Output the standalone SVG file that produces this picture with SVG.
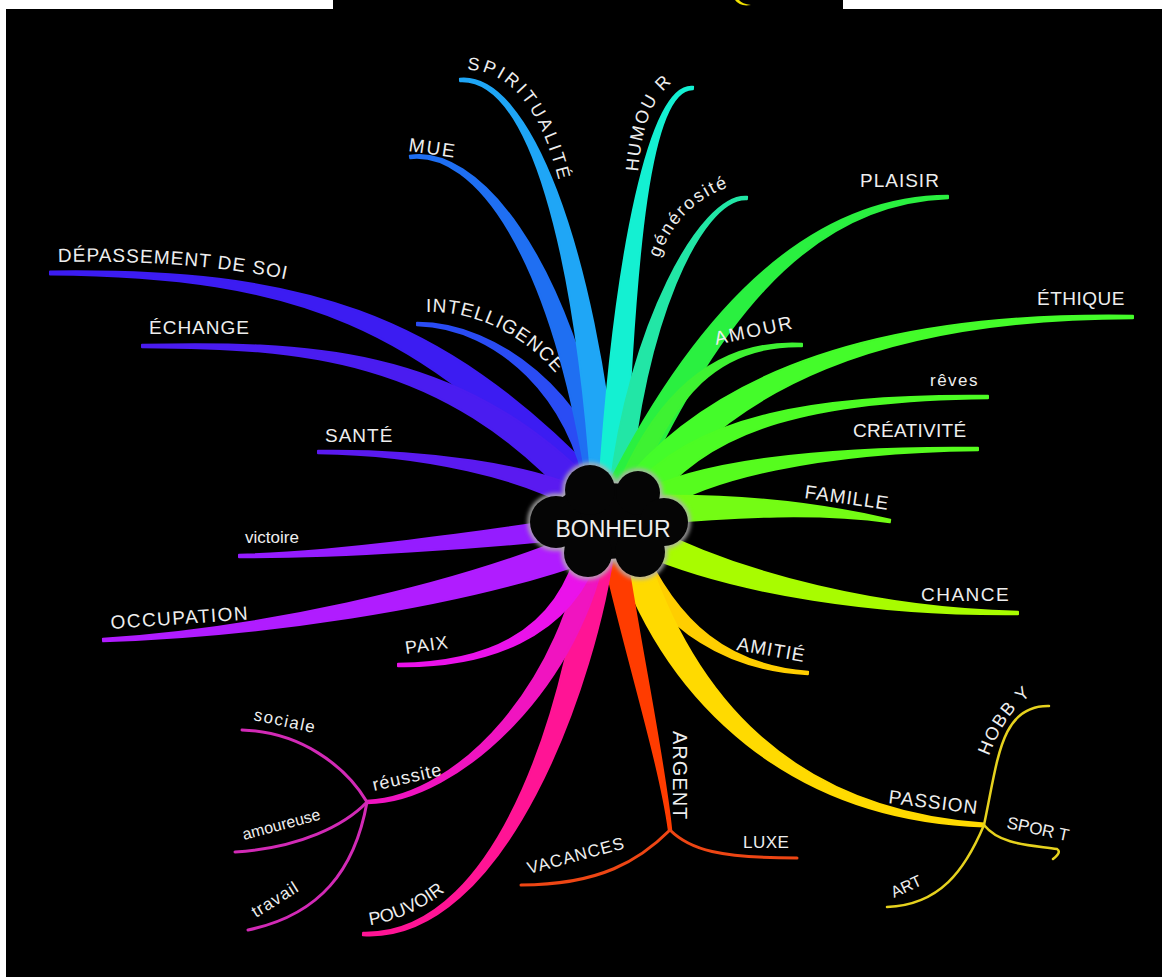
<svg xmlns="http://www.w3.org/2000/svg" xmlns:xlink="http://www.w3.org/1999/xlink" width="1162" height="977" viewBox="0 0 1162 977">
<defs>
<style>
.t{font-family:"Liberation Sans",Arial,sans-serif;fill:#eeeeee;font-size:19px;letter-spacing:1px}
.s{font-size:17px}
.b{stroke-width:2;stroke-linejoin:round}
.sub{fill:none;stroke-linecap:round}
</style>
<filter id="blur" x="-20%" y="-20%" width="140%" height="140%"><feGaussianBlur stdDeviation="2"/></filter>
<g id="cloud">
<ellipse cx="609" cy="521" rx="60" ry="38"/>
<circle cx="556" cy="522" r="26"/>
<circle cx="590" cy="490" r="25"/>
<circle cx="638" cy="493" r="22"/>
<circle cx="664" cy="522" r="24"/>
<circle cx="640" cy="552" r="25"/>
<circle cx="588" cy="553" r="24"/>
</g>
<path id="p-dep" d="M58,262 C140,260 230,266 297,282"/>
<path id="p-int" d="M426,312 C470,311 525,330 565,385"/>
<path id="p-spi" d="M467,70 C510,70 545,110 563,200"/>
<path id="p-hum" d="M638,172 C642,125 652,92 686,72"/>
<path id="p-gen" d="M659,258 C672,222 698,193 745,182"/>
<path id="p-hob" d="M989,756 C998,733 1010,708 1040,688"/>
<path id="p-pou" d="M370,925 C400,921 432,905 458,880"/>
</defs>
<rect width="1162" height="977" fill="#ffffff"/>
<rect x="6" y="9" width="1156" height="968" fill="#000000"/>
<rect x="333" y="0" width="510" height="10" fill="#000000"/>
<path d="M735,0 Q740,7 751,5 Q742,4 739,0 Z" fill="#f0e000"/>

<g id="n-intelligence"><text class="t"><textPath href="#p-int">INTELLIGENCE</textPath></text></g>

<g id="connectors">
<path class="b" fill="#3c1cf2" stroke="#3c1cf2" d="M600.95,479.7 C439.5,311.1 300,268 50,271.5 L50,274.5 C300,276 420.5,328.9 579.05,500.3 Z"/>
<path class="b" fill="#4a1cf0" stroke="#4a1cf0" d="M595.2,485.5 C457.3,343.2 300,342 142,344.8 L142,347.2 C300,348 442.7,356.8 574.8,504.5 Z"/>
<path class="b" fill="#5a1af0" stroke="#5a1af0" d="M595.5,495.5 C534,463.1 420,449.5 318,450.8 L318,453.2 C420,454.5 526,476.9 584.5,514.5 Z"/>
<path class="b" fill="#2a4cf4" stroke="#2a4cf4" d="M609.8,487.6 C588.3,398.3 500,322.5 417,322.8 L417,325.2 C500,327.5 571.7,401.7 586.2,492.4 Z"/>
<path class="b" fill="#1f6ff2" stroke="#1f6ff2" d="M611.8,486 C569.4,248.4 474.5,145 409.8,155.8 L410.2,158.2 C475.5,151 550.6,251.6 588.2,490 Z"/>
<path class="b" fill="#1fa6f6" stroke="#1fa6f6" d="M618,488.9 C595,249.2 529.7,72 459.9,78.8 L460.1,81.2 C530.3,78 575,250.8 592,491.1 Z"/>
<path class="b" fill="#14f0d2" stroke="#14f0d2" d="M625,490.7 C635,250.5 649.7,88 692.9,89.2 L693.1,86.8 C650.3,82 615,249.5 599,489.3 Z"/>
<path class="b" fill="#22e6a6" stroke="#22e6a6" d="M630,490.9 C642,330.7 699.9,197 746.9,199.2 L747.1,196.8 C700.1,193 628,329.3 610,489.1 Z"/>
<path class="b" fill="#2af040" stroke="#2af040" d="M633.5,501.5 C710.8,335.2 800.1,203.5 948,198.3 L948,195.7 C799.9,196.5 689.2,324.8 606.5,488.5 Z"/>
<path class="b" fill="#3ef232" stroke="#3ef232" d="M634.3,498.6 C672,392.7 719.9,344.5 802,346.2 L802,343.8 C720.1,339.5 658,387.3 615.7,491.4 Z"/>
<path class="b" fill="#44fc2a" stroke="#44fc2a" d="M642.8,509.6 C730.4,387.8 880,318.5 1133,318.3 L1133,315.7 C880,311.5 709.6,372.2 617.2,490.4 Z"/>
<path class="b" fill="#4cfc24" stroke="#4cfc24" d="M650.4,507.8 C707.6,425.7 820,400 988,398.2 L988,395.8 C820,394 692.4,414.3 629.6,492.2 Z"/>
<path class="b" fill="#56fc1e" stroke="#56fc1e" d="M652,516 C705.1,478 820,452 978,450.2 L978,447.8 C820,446 694.9,462 638,494 Z"/>
<path class="b" fill="#74fc14" stroke="#74fc14" d="M650.8,524 C740.6,516 819.3,512.5 889.8,522.3 L890.2,519.7 C820.7,503.5 739.4,494 649.2,496 Z"/>
<path class="b" fill="#a8fc00" stroke="#a8fc00" d="M639,552.7 C735.3,594.9 880,615.5 1018,614.3 L1018,611.7 C880,608.5 744.7,575.1 651,527.3 Z"/>
<path class="b" fill="#ffce00" stroke="#ffce00" d="M620,549.7 C662.3,633.6 729.9,670.5 807.9,674.2 L808.1,671.8 C730.1,665.5 677.7,626.4 640,540.3 Z"/>
<path class="b" fill="#ffda00" stroke="#ffda00" d="M615.8,554.7 C668.1,704 789.7,820 983.9,826.5 L984.1,823.5 C790.3,810 691.9,696 644.2,545.3 Z"/>
<path class="b" fill="#ff3c00" stroke="#ff3c00" d="M600.2,542.1 C621.6,641.5 659.5,760.3 668.8,830.1 L671.2,829.9 C664.5,759.7 638.4,638.5 623.8,537.9 Z"/>
<path class="b" fill="#ff1495" stroke="#ff1495" d="M585.1,538.4 C572.6,678.7 505.1,936 363.1,932.7 L362.9,935.3 C504.9,944 597.4,681.3 614.9,541.6 Z"/>
<path class="b" fill="#f014c0" stroke="#f014c0" d="M583.1,538.3 C565.6,678.7 459.9,797 367,800.8 L367,803.2 C460.1,803 584.4,681.3 606.9,541.7 Z"/>
<path class="b" fill="#ea12ea" stroke="#ea12ea" d="M579.4,542.2 C557.3,638 480,662.5 398,663.8 L398,666.2 C480,667.5 572.7,642 600.6,547.8 Z"/>
<path class="b" fill="#b01cff" stroke="#b01cff" d="M584.5,531 C446,589.8 249.9,629.5 102.9,638.7 L103.1,641.3 C250.1,636.5 454,610.2 595.5,559 Z"/>
<path class="b" fill="#951cff" stroke="#951cff" d="M573.8,518.1 C479,532.1 340,552 239,554.8 L239,557.2 C340,558 481,547.9 576.3,537.9 Z"/>
<g class="sub" stroke="#d22ab6" stroke-width="3">
<path d="M367,802 C345,765 300,732 242,730"/>
<path d="M367,802 C345,825 300,848 235,852"/>
<path d="M367,802 C355,870 320,915 248,930"/>
</g>
<g class="sub" stroke="#ee4614" stroke-width="3">
<path d="M670,830 C640,860 600,885 521,885"/>
<path d="M670,830 C690,850 720,858 797,858"/>
</g>
<g class="sub" stroke="#e6d21e" stroke-width="2.5">
<path d="M984,825 C998,760 1000,705 1049,706"/>
<path d="M984,825 C1000,845 1030,845 1057,849 Q1062,852 1053,859"/>
<path d="M984,825 C965,870 940,905 887,907"/>
</g>
</g>

<g id="n-depassement"><text class="t"><textPath href="#p-dep">DÉPASSEMENT DE SOI</textPath></text></g>
<g id="n-echange"><text class="t" x="149" y="334">ÉCHANGE</text></g>
<g id="n-sante"><text class="t" x="325" y="442">SANTÉ</text></g>
<g id="n-mue"><text class="t" x="408" y="151" style="letter-spacing:2px" transform="rotate(8 408 151)">MUE</text></g>
<g id="n-spiritualite"><text class="t" style="font-size:18px;letter-spacing:3px"><textPath href="#p-spi">SPIRITUALITÉ</textPath></text></g>
<g id="n-humour"><text class="t" style="font-size:18px;letter-spacing:2px"><textPath href="#p-hum">HUMOU R</textPath></text></g>
<g id="n-generosite"><text class="t" style="font-size:18px;letter-spacing:2px"><textPath href="#p-gen">générosité</textPath></text></g>
<g id="n-plaisir"><text class="t" x="860" y="187">PLAISIR</text></g>
<g id="n-amour"><text class="t" x="716" y="345" style="letter-spacing:2px" transform="rotate(-12 716 345)">AMOUR</text></g>
<g id="n-ethique"><text class="t" x="1037" y="305" style="letter-spacing:0.5px">ÉTHIQUE</text></g>
<g id="n-reves"><text class="t s" x="930" y="386" style="letter-spacing:1.5px">rêves</text></g>
<g id="n-creativite"><text class="t" x="853" y="437" style="letter-spacing:0.3px">CRÉATIVITÉ</text></g>
<g id="n-famille"><text class="t" x="804" y="498" transform="rotate(8 804 498)">FAMILLE</text></g>
<g id="n-chance"><text class="t" x="921" y="601" style="letter-spacing:1.5px">CHANCE</text></g>
<g id="n-amitie"><text class="t" x="736" y="650" transform="rotate(10 736 650)">AMITIÉ</text></g>
<g id="n-passion"><text class="t" x="888" y="803" transform="rotate(7 888 803)">PASSION</text></g>
<g id="n-hobby"><text class="t" style="font-size:18px;letter-spacing:1.5px"><textPath href="#p-hob">HOBB Y</textPath></text></g>
<g id="n-sport"><text class="t s" x="1006" y="828" style="letter-spacing:0" transform="rotate(12 1006 828)">SPOR T</text></g>
<g id="n-art"><text class="t" x="894" y="898" style="font-size:16px;letter-spacing:0" transform="rotate(-25 894 898)">ART</text></g>
<g id="n-argent"><text class="t" style="font-size:20px" transform="translate(673 731) rotate(90)">ARGENT</text></g>
<g id="n-luxe"><text class="t s" x="743" y="848" style="letter-spacing:0.5px">LUXE</text></g>
<g id="n-vacances"><text class="t s" x="529" y="874" transform="rotate(-15 529 874)">VACANCES</text></g>
<g id="n-pouvoir"><text class="t" style="font-size:18px;letter-spacing:0"><textPath href="#p-pou">POUVOIR</textPath></text></g>
<g id="n-reussite"><text class="t" x="374" y="791" style="font-size:18px" transform="rotate(-13 374 791)">réussite</text></g>
<g id="n-sociale"><text class="t s" x="253" y="720" style="letter-spacing:1.5px" transform="rotate(12 253 720)">sociale</text></g>
<g id="n-amoureuse"><text class="t" x="244" y="840" style="font-size:16px;letter-spacing:0" transform="rotate(-15 244 840)">amoureuse</text></g>
<g id="n-travail"><text class="t s" x="256" y="918" transform="rotate(-32 256 918)">travail</text></g>
<g id="n-occupation"><text class="t" x="111" y="629" style="letter-spacing:1.5px" transform="rotate(-4 111 629)">OCCUPATION</text></g>
<g id="n-victoire"><text class="t s" x="245" y="543" style="letter-spacing:0">victoire</text></g>
<g id="n-paix"><text class="t" x="406" y="654" style="font-size:18px" transform="rotate(-8 406 654)">PAIX</text></g>

<g id="n-bonheur">
<use href="#cloud" fill="none" stroke="#b0b0b0" stroke-width="5" filter="url(#blur)"/>
<use href="#cloud" fill="#050505"/>
<text x="613" y="537" text-anchor="middle" style="font-family:'Liberation Sans',Arial,sans-serif;font-size:23px;fill:#eeeeee">BONHEUR</text>
</g>
</svg>
